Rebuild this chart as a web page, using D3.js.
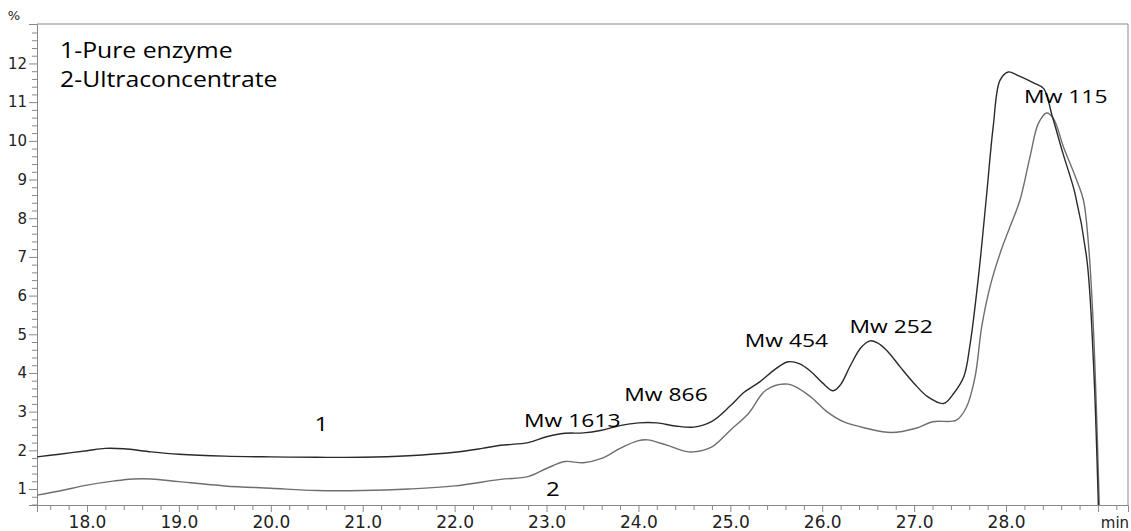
<!DOCTYPE html>
<html>
<head>
<meta charset="utf-8">
<script src="https://cdn.jsdelivr.net/npm/d3@7"></script>
<style>
body { margin: 0; background: #fff; }
.lbl { font-family: "Open Sans", sans-serif; fill: #000; }
.tick text { font-family: "DejaVu Sans", sans-serif; fill: #222; }
</style>
</head>
<body>
<div id="chart"></div>
<script>
// Chromatogram: 1-Pure enzyme vs 2-Ultraconcentrate
const times1 = [17.45, 17.7, 18.0, 18.2, 18.4, 18.7, 19.0, 19.5, 20.0, 20.5, 21.0, 21.5, 22.0, 22.3, 22.5, 22.8,
    23.0, 23.2, 23.4, 23.6, 23.8, 24.0, 24.2, 24.4, 24.6, 24.8, 25.0, 25.15, 25.32, 25.5, 25.63, 25.75, 25.87,
    26.0, 26.12, 26.2, 26.3, 26.42, 26.52, 26.6, 26.7, 26.85, 27.0, 27.15, 27.32, 27.43, 27.54, 27.61, 27.7,
    27.79, 27.86, 27.935, 28.025, 28.12, 28.3, 28.41, 28.5, 28.62, 28.75, 28.88, 28.95, 29.005];
const values1 = [1.83, 1.90, 1.99, 2.05, 2.04, 1.96, 1.90, 1.85, 1.83, 1.82, 1.82, 1.86, 1.95, 2.05, 2.13, 2.20,
    2.35, 2.44, 2.45, 2.52, 2.64, 2.71, 2.71, 2.63, 2.60, 2.75, 3.15, 3.50, 3.77, 4.12, 4.29, 4.24, 4.05,
    3.75, 3.54, 3.70, 4.16, 4.65, 4.83, 4.78, 4.59, 4.15, 3.73, 3.38, 3.21, 3.47, 3.90, 4.76, 6.49,
    8.64, 10.36, 11.57, 11.78, 11.70, 11.50, 11.35, 10.66, 9.67, 8.64, 6.92, 4.33, 0.54];

const times2 = [17.45, 17.7, 18.0, 18.3, 18.5, 18.7, 19.0, 19.5, 20.0, 20.5, 21.0, 21.5, 22.0, 22.5, 22.8,
    23.0, 23.2, 23.4, 23.6, 23.8, 24.0, 24.1, 24.3, 24.5, 24.6, 24.8, 25.0, 25.2, 25.39, 25.63, 25.87,
    26.05, 26.23, 26.48, 26.75, 27.02, 27.2, 27.46, 27.57, 27.663, 27.735, 27.826, 27.935, 28.043, 28.152,
    28.261, 28.352, 28.443, 28.515, 28.624, 28.769, 28.842, 28.896, 28.95, 29.015];
const values2 = [0.84, 0.95, 1.10, 1.21, 1.26, 1.26, 1.19, 1.08, 1.02, 0.96, 0.96, 1.00, 1.08, 1.25, 1.32,
    1.53, 1.71, 1.68, 1.79, 2.05, 2.25, 2.27, 2.14, 1.98, 1.96, 2.09, 2.52, 2.96, 3.56, 3.71, 3.39,
    3.00, 2.74, 2.57, 2.46, 2.57, 2.74, 2.78, 3.12, 3.90, 5.19, 6.23, 7.09, 7.78, 8.47,
    9.59, 10.45, 10.72, 10.58, 9.85, 8.98, 8.47, 7.35, 5.19, 0.54];

const xMajor = [18, 19, 20, 21, 22, 23, 24, 25, 26, 27, 28, 29];
const yMajor = [1, 2, 3, 4, 5, 6, 7, 8, 9, 10, 11, 12];

const legendLines = ["1-Pure enzyme", "2-Ultraconcentrate"];
// peak labels: text, retention time and % level of the text baseline
const peakLabels = [
    { text: "Mw 1613", t: 23.28, v: 2.60 },
    { text: "Mw 866", t: 24.30, v: 3.27 },
    { text: "Mw 454", t: 25.61, v: 4.67 },
    { text: "Mw 252", t: 26.75, v: 5.03 },
    { text: "Mw 115", t: 28.65, v: 10.99 }
];
const curveLabels = [
    { text: "1", t: 20.55, v: 2.49 },
    { text: "2", t: 23.07, v: 0.83 }
];

const W = 1131, H = 531;
const margin = { top: 24, right: 3, bottom: 26, left: 37 };
const width = W - margin.left - margin.right;
const height = H - margin.top - margin.bottom;

const root = d3.select("#chart").append("svg")
    .attr("width", W)
    .attr("height", H);

const svg = root.append("g")
    .attr("transform", `translate(${margin.left},${margin.top})`);

const x = d3.scaleLinear().domain([17.456, 29.327]).range([0, width]);
const y = d3.scaleLinear().domain([0.587, 13.02]).range([height, 0]);

svg.append("clipPath").attr("id", "clip")
    .append("rect").attr("width", width).attr("height", height);

// Minor ticks
const xMinor = d3.range(17.6, 29.3, 0.2).filter(d => Math.abs(d - Math.round(d)) > 0.01);
const yMinor = d3.range(0.6, 13.0, 0.2).filter(d => Math.abs(d - Math.round(d)) > 0.01);

svg.append("g")
    .attr("transform", `translate(0,${height})`)
    .call(d3.axisBottom(x).tickValues(xMinor).tickSize(5).tickFormat(""))
    .call(g => g.select(".domain").remove())
    .call(g => g.selectAll("line").attr("stroke", "#888"));

svg.append("g")
    .call(d3.axisLeft(y).tickValues(yMinor).tickSize(5).tickFormat(""))
    .call(g => g.select(".domain").remove())
    .call(g => g.selectAll("line").attr("stroke", "#888"));

// Major ticks
svg.append("g")
    .attr("transform", `translate(0,${height})`)
    .call(d3.axisBottom(x).tickValues(xMajor).tickSize(7).tickPadding(4)
        .tickFormat(d => d === 29 ? "" : d3.format(".1f")(d)))
    .call(g => g.select(".domain").attr("stroke", "#888"))
    .call(g => g.selectAll("line").attr("stroke", "#888"))
    .call(g => g.selectAll("text").attr("font-size", "17px"));

svg.append("g")
    .call(d3.axisLeft(y).tickValues(yMajor).tickSize(8).tickPadding(2))
    .call(g => g.select(".domain").attr("stroke", "#888"))
    .call(g => g.selectAll("line").attr("stroke", "#888"))
    .call(g => g.selectAll("text").attr("font-size", "15px"));

// Box top and right
svg.append("line").attr("x1", 0).attr("x2", width).attr("y1", 0).attr("y2", 0).attr("stroke", "#888");
svg.append("line").attr("x1", width).attr("x2", width).attr("y1", 0).attr("y2", height).attr("stroke", "#888");

// Unit labels
root.append("text").attr("x", 14).attr("y", 20).attr("text-anchor", "middle")
    .attr("font-family", "DejaVu Sans, sans-serif").attr("font-size", "13px").attr("fill", "#222").text("%");
root.append("text").attr("x", margin.left + width - 13).attr("y", 528).attr("text-anchor", "middle")
    .attr("font-family", "DejaVu Sans, sans-serif").attr("font-size", "15px").attr("fill", "#222").text("min");

// Curves
const line = d3.line()
    .x(d => x(d[0]))
    .y(d => y(d[1]))
    .curve(d3.curveCatmullRom.alpha(0.5));

const series = [
    { pts: d3.zip(times2, values2), color: "#6e6e6e" },
    { pts: d3.zip(times1, values1), color: "#2a2a2a" }
];

svg.append("g").attr("clip-path", "url(#clip)")
    .selectAll("path")
    .data(series)
    .enter()
    .append("path")
    .attr("fill", "none")
    .attr("stroke", d => d.color)
    .attr("stroke-width", 1.4)
    .attr("d", d => line(d.pts));

// Legend text
legendLines.forEach((t, i) => {
    root.append("text")
        .attr("class", "lbl")
        .attr("transform", `translate(60,${58 + i * 29}) scale(1.18,1)`)
        .attr("font-size", "21px")
        .text(t);
});

// Peak labels
svg.selectAll(".peak")
    .data(peakLabels)
    .enter()
    .append("text")
    .attr("class", "lbl peak")
    .attr("text-anchor", "middle")
    .attr("font-size", "18px")
    .attr("transform", d => `translate(${x(d.t)},${y(d.v)}) scale(1.27,1)`)
    .text(d => d.text);

svg.selectAll(".cl")
    .data(curveLabels)
    .enter()
    .append("text")
    .attr("class", "lbl cl")
    .attr("text-anchor", "middle")
    .attr("font-size", "20px")
    .attr("transform", d => `translate(${x(d.t)},${y(d.v)}) scale(1.2,1)`)
    .text(d => d.text);
</script>
</body>
</html>
